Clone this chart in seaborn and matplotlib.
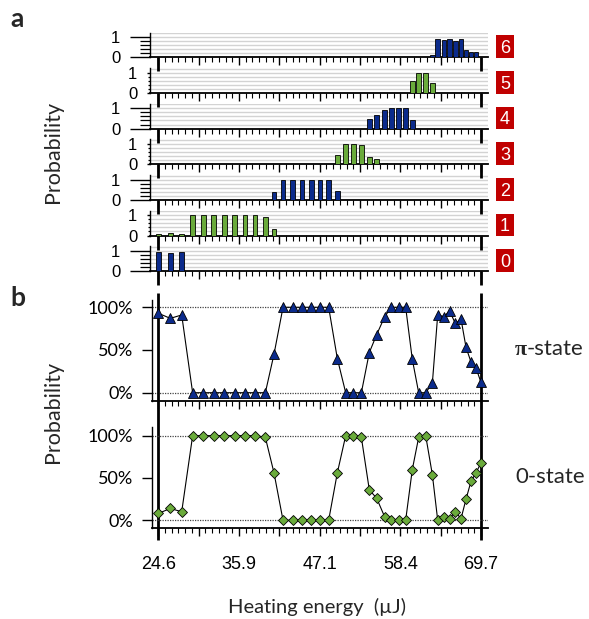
import numpy as np
import pandas as pd
import matplotlib
matplotlib.use("Agg")
import matplotlib.pyplot as plt
import seaborn as sns
from matplotlib.patches import Rectangle
from matplotlib.ticker import FixedLocator, NullFormatter, FixedFormatter

# ---------------- data ----------------
energy = [24.60, 26.28, 27.87, 29.40, 30.89, 32.34, 33.83, 35.27, 36.72, 38.11,
          39.56, 40.77, 42.03, 43.38, 44.68, 45.99, 47.20, 48.41, 49.62, 50.79,
          51.86, 52.98, 54.09, 55.12, 56.24, 57.17, 58.19, 59.17, 60.10, 60.99,
          61.97, 62.90, 63.65, 64.55, 65.30, 66.11, 66.91, 67.61, 68.30, 69.00, 69.70]

pi_state = [0.93, 0.87, 0.91, 0, 0, 0, 0, 0, 0, 0,
            0, 0.45, 1, 1, 1, 1, 1, 1, 0.40, 0,
            0, 0, 0.47, 0.68, 0.89, 1, 1, 1, 0.39, 0,
            0, 0.11, 0.91, 0.89, 0.96, 0.81, 0.86, 0.53, 0.36, 0.29, 0.12]

zero_state = [0.08, 0.14, 0.10, 1, 1, 1, 1, 1, 1, 1,
              0.98, 0.56, 0, 0, 0, 0, 0, 0, 0.56, 1,
              1, 0.98, 0.36, 0.26, 0.04, 0, 0, 0, 0.60, 0.98,
              1, 0.54, 0, 0.04, 0.02, 0.10, 0.02, 0.25, 0.46, 0.56, 0.68]

p0 = [0.96, 0.92, 0.97, 0.02, 0, 0, 0, 0, 0, 0,
      0, 0, 0, 0, 0, 0, 0, 0, 0, 0,
      0, 0, 0, 0, 0, 0, 0, 0, 0, 0,
      0, 0, 0, 0, 0, 0, 0, 0, 0, 0, 0]
p1 = [0.08, 0.13, 0.07, 1, 1, 1, 1, 1, 1, 1,
      0.92, 0.30, 0, 0, 0, 0, 0, 0, 0, 0,
      0, 0, 0, 0, 0, 0, 0, 0, 0, 0,
      0, 0, 0, 0, 0, 0, 0, 0, 0, 0, 0]
p2 = [0, 0, 0, 0, 0, 0, 0, 0, 0, 0,
      0, 0.38, 1, 1, 1, 1, 1, 1, 0.45, 0,
      0, 0, 0, 0, 0, 0, 0, 0, 0, 0,
      0, 0, 0, 0, 0, 0, 0, 0, 0, 0, 0]
p3 = [0, 0, 0, 0, 0, 0, 0, 0, 0, 0,
      0, 0, 0, 0, 0, 0, 0, 0, 0.45, 1,
      1, 0.97, 0.38, 0.25, 0.07, 0, 0, 0, 0, 0,
      0, 0, 0, 0, 0, 0, 0, 0, 0, 0, 0]
p4 = [0, 0, 0, 0, 0, 0, 0, 0, 0, 0,
      0, 0, 0, 0, 0, 0, 0, 0, 0, 0,
      0, 0, 0.47, 0.67, 0.92, 1, 1, 1, 0.40, 0,
      0, 0, 0, 0, 0, 0, 0, 0, 0, 0, 0]
p5 = [0, 0, 0, 0, 0, 0, 0, 0, 0, 0,
      0, 0, 0, 0, 0, 0, 0, 0, 0, 0,
      0, 0, 0, 0, 0, 0, 0, 0, 0.59, 1,
      1, 0.47, 0, 0, 0, 0, 0, 0, 0, 0, 0]
p6 = [0, 0, 0, 0, 0, 0, 0, 0, 0, 0,
      0, 0, 0, 0, 0, 0, 0, 0, 0, 0,
      0, 0, 0, 0, 0, 0, 0, 0, 0, 0,
      0, 0.13, 0.90, 0.87, 0.92, 0.80, 0.88, 0.35, 0.28, 0.24, 0]

state_names = ['0', '1', '2', '3', '4', '5', '6']
axis_ticks = ['24.6', '35.9', '47.1', '58.4', '69.7']
pct_ticks = ['0%', '50%', '100%']

# ---------------- style ----------------
sns.set_theme(style='ticks', rc={'axes.edgecolor': 'black', 'xtick.color': 'black',
                                 'ytick.color': 'black', 'axes.facecolor': 'none',
                                 'figure.facecolor': 'white'})
plt.rcParams['font.family'] = ['Lato', 'DejaVu Sans']

W, H = 589, 619
PT = 72 / 100.0
fig = plt.figure(figsize=(W / 100, H / 100), dpi=100)


def fx(px):
    return px / W


def fy(px):
    return 1 - px / H


BLUE = '#0b2b8c'
GREEN = '#6aab3b'
RED = '#c00000'
GRID = '#d3d3d3'
ARIAL = ['Liberation Sans', 'DejaVu Sans']

lo, hi = float(axis_ticks[0]), float(axis_ticks[-1])
major = np.linspace(lo, hi, 9)
minor = np.linspace(lo, hi, 49)
px_per_unit = (481 - 158.3) / (hi - lo)


def x_axis(ax, left_px, right_px=488):
    ax.set_xlim(lo - (158.3 - left_px) / px_per_unit, hi + (right_px - 481) / px_per_unit)
    ax.xaxis.set_major_locator(FixedLocator(major))
    ax.xaxis.set_minor_locator(FixedLocator(minor))
    ax.xaxis.set_major_formatter(NullFormatter())
    ax.tick_params(axis='x', which='major', length=8 * PT, width=1.0, direction='out')
    ax.tick_params(axis='x', which='minor', length=4.5 * PT, width=0.8, direction='out')
    for s in ['top', 'right']:
        ax.spines[s].set_visible(False)
    ax.spines['bottom'].set_linewidth(1.3)
    ax.spines['left'].set_linewidth(1.0)
    ax.set_xlabel('')
    ax.set_ylabel('')


# ---------------- panel a ----------------
probs = [p0, p1, p2, p3, p4, p5, p6]
unit_px = 20.3
top_lim = 1.22
ax_h = top_lim * unit_px
for k in range(7):
    y0 = 57.3 + (6 - k) * 35.65
    ax = fig.add_axes([fx(150), fy(y0), fx(338), ax_h / H])
    color = BLUE if k % 2 == 0 else GREEN
    df = pd.DataFrame({'energy': energy, 'p': probs[k]})
    sns.barplot(data=df, x='energy', y='p', native_scale=True, width=0.95, color=color,
                saturation=1, edgecolor='black', linewidth=0.6, errorbar=None, ax=ax, zorder=3)
    x_axis(ax, 150)
    ax.set_ylim(0, top_lim)
    for v in np.arange(0.2, 1.21, 0.2):
        ax.axhline(v, color=GRID, lw=1.0, zorder=0)
    ax.yaxis.set_major_locator(FixedLocator([0, 1]))
    ax.yaxis.set_major_formatter(FixedFormatter(['0', '1']))
    ax.yaxis.set_minor_locator(FixedLocator([0.2, 0.4, 0.6, 0.8]))
    long = (k % 2 == 0)
    ax.tick_params(axis='y', which='major', length=(20 if long else 3) * PT, width=1.0,
                   pad=7, labelsize=12)
    ax.tick_params(axis='y', which='minor', length=(10 if long else 2) * PT, width=0.9)
    for lab in ax.get_yticklabels():
        lab.set_fontfamily(ARIAL)
    ax.vlines([lo, hi], -14 / ax_h, 0, transform=ax.get_xaxis_transform(),
              colors='black', lw=2.0, clip_on=False)
    ax.add_patch(Rectangle(((496 - 150) / 338, -0.7 / ax_h), 18 / 338, 22.7 / ax_h,
                           transform=ax.transAxes, facecolor=RED, edgecolor='none',
                           clip_on=False))
    ax.text((505 - 150) / 338, (22.7 / 2 - 0.7) / ax_h, state_names[k], transform=ax.transAxes,
            ha='center', va='center_baseline', color='white', fontsize=13, family=ARIAL)

# ---------------- panel b ----------------
series = [(pi_state, '^', 7.5, BLUE, 401, 101, (-0.097, 1.085)),
          (zero_state, 'D', 5.2, GREEN, 528.3, 101.6, (-0.095, 1.106))]
axes_b = []
for vals, mk, ms, col, bot, hgt, ylim in series:
    axb = fig.add_axes([fx(152), fy(bot), fx(336), hgt / H])
    sns.lineplot(x=energy, y=vals, ax=axb, color='black', linewidth=0.8, marker=mk,
                 markersize=ms, markerfacecolor=col, markeredgecolor='black',
                 markeredgewidth=0.6, zorder=3)
    x_axis(axb, 152)
    axb.set_ylim(*ylim)
    axb.yaxis.set_major_locator(FixedLocator([0, 0.5, 1]))
    axb.yaxis.set_major_formatter(FixedFormatter(pct_ticks))
    axb.tick_params(axis='y', which='major', length=10 * PT, width=1.0, pad=6.5, labelsize=13)
    axb.tick_params(axis='y', which='minor', length=0)
    for v in [0, 1]:
        axb.axhline(v, color='#444444', lw=0.9, ls=(0, (1, 1)), zorder=1)
    axes_b.append(axb)

axp, axz = axes_b
axp.vlines([lo, hi], -(540 - 401) / 101, (401 - 293) / 101, transform=axp.get_xaxis_transform(),
           colors='black', lw=2.0, clip_on=False, zorder=1.5)
axz.xaxis.set_major_formatter(FixedFormatter([axis_ticks[i // 2] if i % 2 == 0 else '' for i in range(9)]))
axz.tick_params(axis='x', which='major', pad=14, labelsize=13)
for lab in axz.get_xticklabels():
    lab.set_fontfamily(ARIAL)

# ---------------- text ----------------
fig.text(fx(10), fy(27), 'a', fontsize=19, fontweight='bold', va='baseline')
fig.text(fx(10), fy(306), 'b', fontsize=19, fontweight='bold', va='baseline')
fig.text(fx(53), fy(152), 'Probability', rotation=90, ha='center', va='center', fontsize=15.5)
fig.text(fx(53), fy(412), 'Probability', rotation=90, ha='center', va='center', fontsize=15.5)
fig.text(fx(515), fy(355), '\u03c0', ha='left', va='baseline', fontsize=16,
         family=['Liberation Serif', 'DejaVu Serif'], fontweight='bold')
fig.text(fx(527), fy(355), '-state', ha='left', va='baseline', fontsize=16)
fig.text(fx(515), fy(483), '0-state', ha='left', va='baseline', fontsize=16)
fig.text(fx(316.5), fy(613), 'Heating energy  (\u00b5J)', ha='center', va='baseline', fontsize=14.5)

fig.savefig('out.png', dpi=100)
